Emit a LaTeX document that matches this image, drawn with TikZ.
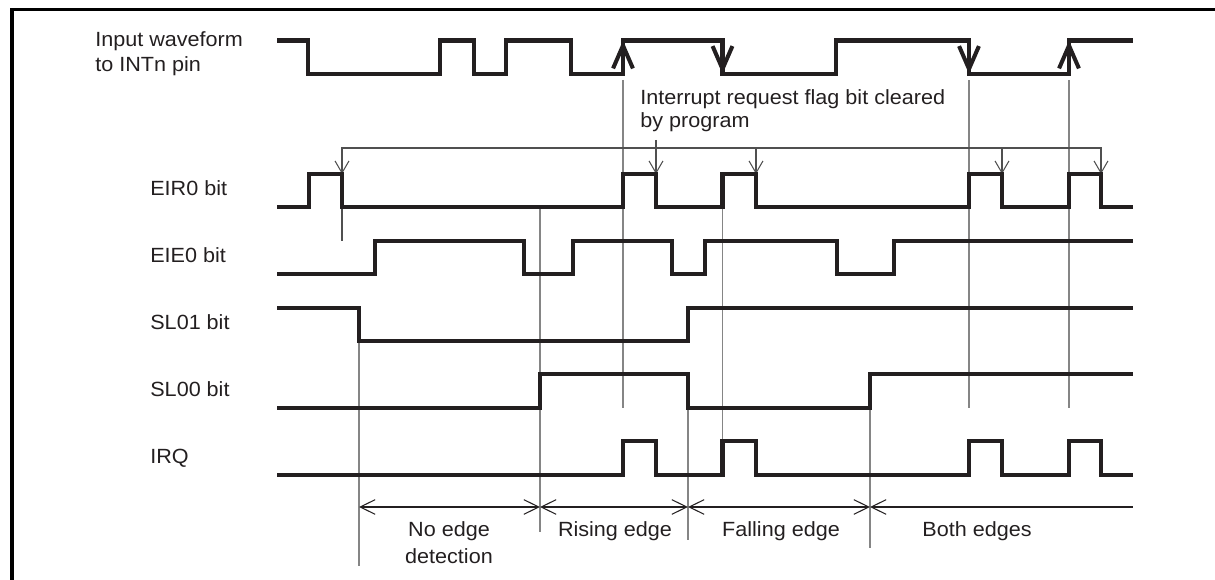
\documentclass[tikz,border=0pt]{standalone}
\usepackage{fontspec}
\setmainfont{Liberation Sans}[FakeStretch=1.05]
\usepackage{xcolor}
\definecolor{ink}{HTML}{231F20}
\definecolor{guidegray}{HTML}{858585}
\definecolor{leadgray}{HTML}{505050}
\usetikzlibrary{arrows.meta}
\tikzset{
    signal/.style = {line width=2.3pt, color=ink, line join=miter},
    guide/.style = {line width=0.7pt, color=guidegray},
    lead/.style = {line width=0.6pt, color=leadgray},
    flagtip/.tip = {Straight Barb[length=6.8pt, width=7.9pt]},
    flagarrow/.style = {lead, -flagtip},
    edgearrow/.style = {signal, -{Straight Barb[length=13pt, width=11.3pt]}},
    dimline/.style = {line width=0.6pt, color=ink},
    dimtip/.tip = {Straight Barb[length=8.5pt, width=8.3pt]},
    siglabel/.style = {font=\fontsize{11.7}{14}\selectfont, text=ink, inner sep=0pt},
    boxframe/.style = {line width=2pt, color=black},
}

\begin{document}
\begin{tikzpicture}[x=0.02cm, y=-0.02cm]
        \useasboundingbox (0,0) rectangle (1215,580);
        \clip (0,0) rectangle (1215,580);
        % frame
        \draw[boxframe] (12,600) -- (12,9.5) -- (1240,9.5);
        % labels
        \node[siglabel, align=left, anchor=north west] (inputlbl) at (95,31.5) {Input waveform\\to INTn pin};
        \node[siglabel, anchor=base west] (eirlbl) at (150,196) {EIR0 bit};
        \node[siglabel, anchor=base west] (eielbl) at (150,263) {EIE0 bit};
        \node[siglabel, anchor=base west] (slonelbl) at (150,329.8) {SL01 bit};
        \node[siglabel, anchor=base west] (slzerolbl) at (150,396.6) {SL00 bit};
        \node[siglabel, anchor=base west] (irqlbl) at (150,463.4) {IRQ};
        % guide lines
        \draw[lead] (342,207.4) -- (342,240.8);
        \draw[guide] (359,341) -- (359,566);
        \draw[guide] (540,207.4) -- (540,532);
        \draw[guide] (623,80) -- (623,407.8);
        \draw[guide] (722.5,207.4) -- (722.5,441.2);
        \draw[guide] (688,407.8) -- (688,540);
        \draw[guide] (870,407.8) -- (870,548);
        \draw[guide] (969,80) -- (969,407.8);
        \draw[guide] (1069,80) -- (1069,407.8);
        % flag cleared by program
        \node[siglabel, align=left, anchor=north west, font=\fontsize{11.7}{13}\selectfont] (clearlbl) at (640,89)
            {Interrupt request flag bit cleared\\by program};
        \draw[lead, flagtip-flagtip] (342,174) -- (342,148) -- (1101,148) -- (1101,174);
        \draw[flagarrow] (656,140) -- (656,174);
        \foreach \x in {756,1002}
            \draw[flagarrow] (\x,148) -- (\x,174);
        % input waveform
        \draw[signal] (277,40.5) -| (308,74) -| (440,40.5) -| (474,74) -| (506,40.5) -| (571,74)
            -| (623,40.5) -| (722.5,74) -| (836,40.5) -| (969,74) -| (1069,40.5) -- (1133,40.5);
        \draw[edgearrow] (623,74) -- (623,40.5);
        \draw[edgearrow] (1069,74) -- (1069,40.5);
        \draw[edgearrow] (722.5,40.5) -- (722.5,74);
        \draw[edgearrow] (969,40.5) -- (969,74);
        % EIR0
        \draw[signal] (277,207.4) -| (309,174) -| (342,207.4) -| (623,174) -| (656,207.4) -| (722.5,174)
            -| (756,207.4) -| (969,174) -| (1002,207.4) -| (1069,174) -| (1101,207.4) -- (1133,207.4);
        % EIE0
        \draw[signal] (277,274.2) -| (375,240.8) -| (524,274.2) -| (573,240.8) -| (672,274.2)
            -| (705,240.8) -| (837,274.2) -| (894,240.8) -- (1133,240.8);
        % SL01
        \draw[signal] (277,307.6) -| (359,341) -| (688,307.6) -- (1133,307.6);
        % SL00
        \draw[signal] (277,407.8) -| (540,374.4) -| (688,407.8) -| (870,374.4) -- (1133,374.4);
        % IRQ
        \draw[signal] (277,474.6) -| (623,441.2) -| (656,474.6) -| (722.5,441.2) -| (756,474.6)
            -| (969,441.2) -| (1002,474.6) -| (1069,441.2) -| (1101,474.6) -- (1133,474.6);
        % detection modes
        \draw[dimline, dimtip-dimtip] (359,507) -- (540,507);
        \draw[dimline, dimtip-dimtip] (540,507) -- (688,507);
        \draw[dimline, dimtip-dimtip] (688,507) -- (870,507);
        \draw[dimline, dimtip-] (870,507) -- (1133,507);
        \node[siglabel, align=center, anchor=north] (nonelbl) at (449,521.5) {No edge\\[1.3pt]detection};
        \node[siglabel, anchor=base] (riselbl) at (615,536.7) {Rising edge};
        \node[siglabel, anchor=base] (falllbl) at (781,536.7) {Falling edge};
        \node[siglabel, anchor=base] (bothlbl) at (977,536.7) {Both edges};
      \end{tikzpicture}
\end{document}
